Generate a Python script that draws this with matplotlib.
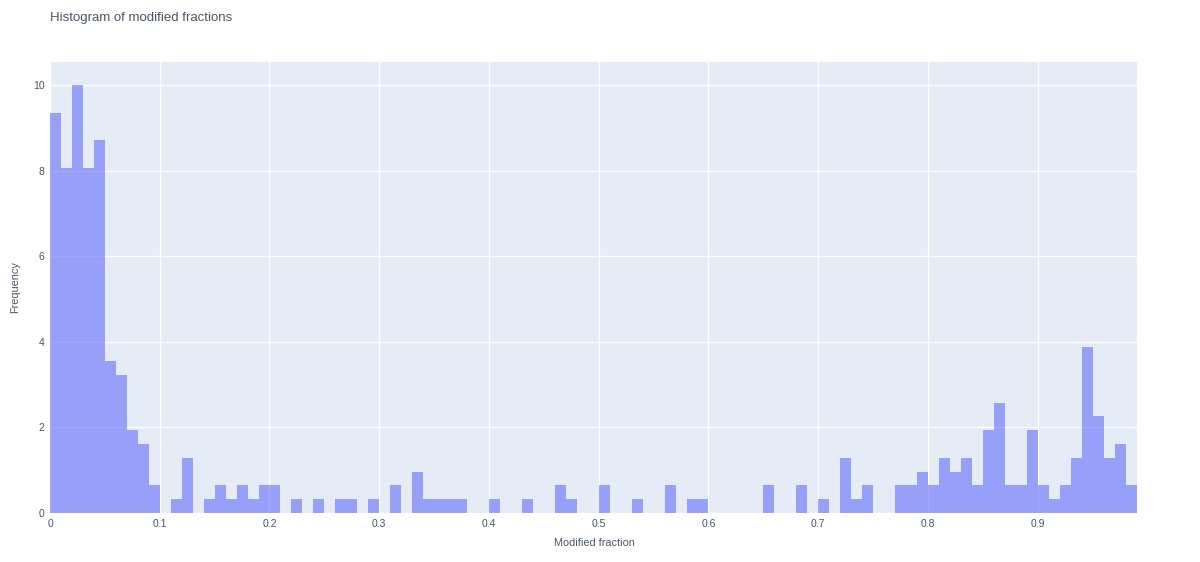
import numpy as np
import matplotlib
matplotlib.use('Agg')
import matplotlib.pyplot as plt

# histogram of modified fractions, bins of 0.01 from 0 to 0.99
bin_width = 0.01
bin_starts = np.round(np.arange(0, 0.99, bin_width), 2)
counts = [29, 25, 31, 25, 27, 11, 10, 6, 5, 2,
          0, 1, 4, 0, 1, 2, 1, 2, 1, 2,
          2, 0, 1, 0, 1, 0, 1, 1, 0, 1,
          0, 2, 0, 3, 1, 1, 1, 1, 0, 0,
          1, 0, 0, 1, 0, 0, 2, 1, 0, 0,
          2, 0, 0, 1, 0, 0, 2, 0, 1, 1,
          0, 0, 0, 0, 0, 2, 0, 0, 2, 0,
          1, 0, 4, 1, 2, 0, 0, 2, 2, 3,
          2, 4, 3, 4, 2, 6, 8, 2, 2, 6,
          2, 1, 2, 4, 12, 7, 4, 5, 2]
x_ticks = [0, 0.1, 0.2, 0.3, 0.4, 0.5, 0.6, 0.7, 0.8, 0.9]
x_ticklabels = ['0', '0.1', '0.2', '0.3', '0.4', '0.5', '0.6', '0.7', '0.8', '0.9']
y_ticks = [0, 2, 4, 6, 8, 10]

counts = np.array(counts)
density = counts / (counts.sum() * bin_width)

plt.rcParams['font.family'] = ['Liberation Sans', 'DejaVu Sans']
txt = '#4a5568'

fig = plt.figure(figsize=(12, 5.62), dpi=100)
ax = fig.add_axes([50 / 1200, 1 - 513 / 562, (1136.5 - 50) / 1200, (513 - 62) / 562])
ax.set_facecolor('#e5ecf6')

ax.bar(bin_starts, density, width=bin_width, align='edge',
       color='#636efa', alpha=0.6, linewidth=0, zorder=3)

ax.set_xlim(0, 0.99)
ax.set_ylim(0, 10.54)
ax.set_xticks(x_ticks)
ax.set_xticklabels(x_ticklabels)
ax.set_yticks(y_ticks)
ax.grid(True, color='white', linewidth=1, zorder=0)
ax.set_axisbelow(True)
for s in ax.spines.values():
    s.set_visible(False)
ax.tick_params(length=0, labelsize=7.5, colors=txt)
ax.tick_params(axis='x', pad=4)
ax.tick_params(axis='y', pad=4)

ax.set_xlabel('Modified fraction', fontsize=7.8, color=txt)
ax.xaxis.set_label_coords(544 / 1086.5, -30 / 451)
ax.xaxis.label.set_va('center')
ax.set_ylabel('Frequency', fontsize=7.8, color=txt)
ax.yaxis.set_label_coords(-35 / 1086.5, 226 / 451)
ax.yaxis.label.set_va('center')
fig.text(50 / 1200, 1 - 18 / 562, 'Histogram of modified fractions',
         fontsize=9.5, color=txt, va='center', ha='left')

fig.savefig('out.png', dpi=100, facecolor='white')
